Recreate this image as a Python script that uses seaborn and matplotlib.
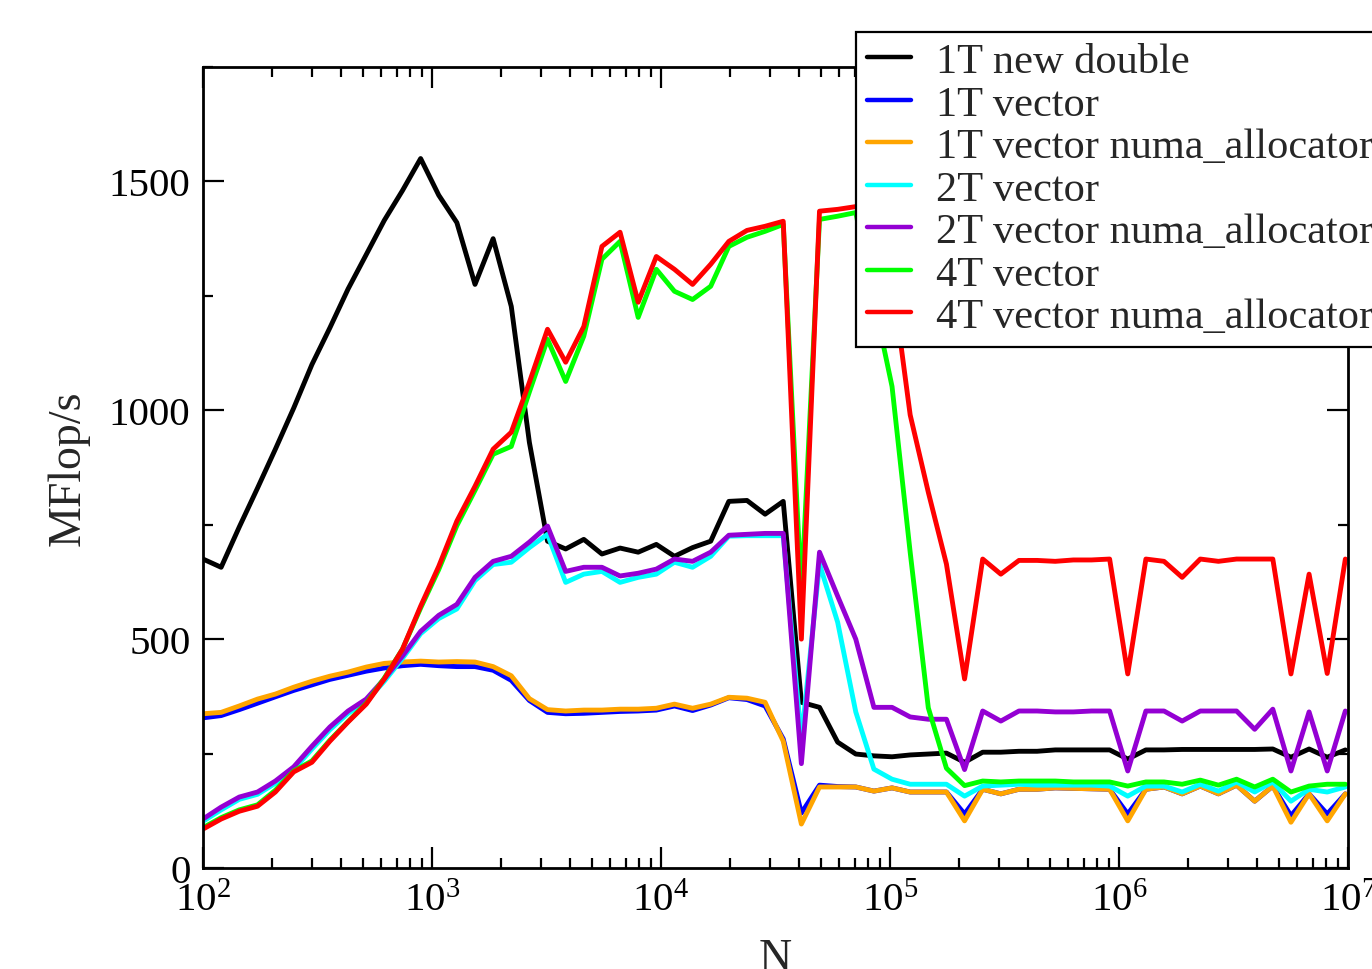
import numpy as np
import pandas as pd
import matplotlib
matplotlib.use("Agg")
import matplotlib.pyplot as plt
import seaborn as sns
from matplotlib.ticker import LogLocator, MultipleLocator, NullFormatter

# ---------------- data ----------------
N = [100, 120, 144, 173, 207, 249, 299, 358, 430, 516,
     619, 743, 892, 1070, 1284, 1541, 1849, 2219, 2662, 3195,
     3834, 4601, 5521, 6625, 7950, 9540, 11448, 13737, 16484, 19781,
     23738, 28485, 34182, 41018, 49222, 59067, 70880, 85056, 102067, 122480,
     146977, 176372, 211646, 253975, 304770, 365724, 438869, 526643, 631971, 758366,
     910044, 1092053, 1310463, 1572556, 1887067, 2264481, 2717377, 3260852, 3913023, 4695627,
     5634753, 6761703, 8114044, 9736853]

one_new_double = [675, 657, 745, 830, 915, 1005, 1100, 1180, 1265, 1340,
                  1415, 1480, 1550, 1470, 1410, 1275, 1375, 1227, 930, 714,
                  697, 718, 686, 699, 690, 707, 681, 700, 714, 801,
                  803, 773, 801, 362, 351, 275, 249, 245, 243, 247,
                  249, 251, 231, 253, 253, 255, 255, 258, 258, 258,
                  258, 238, 258, 258, 259, 259, 259, 259, 259, 260,
                  242, 260, 242, 258]

one_vector = [328, 333, 346, 360, 374, 388, 400, 412, 421, 430,
              437, 442, 445, 442, 440, 440, 432, 410, 366, 340,
              337, 338, 340, 342, 343, 345, 354, 344, 356, 372,
              368, 354, 282, 120, 181, 178, 177, 168, 175, 166,
              166, 166, 118, 172, 162, 172, 172, 175, 174, 173,
              172, 118, 172, 177, 162, 179, 162, 181, 146, 179,
              114, 162, 118, 162]

one_vector_numa = [337, 340, 354, 369, 380, 395, 408, 419, 428, 439,
                   447, 450, 452, 450, 451, 450, 440, 420, 370, 346,
                   343, 345, 345, 347, 347, 349, 358, 349, 358, 373,
                   371, 362, 277, 96, 177, 177, 177, 168, 175, 166,
                   166, 166, 103, 172, 162, 172, 172, 175, 174, 173,
                   172, 103, 172, 177, 162, 179, 162, 181, 146, 179,
                   100, 162, 103, 162]

two_vector = [102, 127, 150, 161, 185, 215, 260, 302, 338, 364,
              408, 458, 512, 545, 566, 628, 663, 668, 700, 729,
              624, 642, 648, 624, 635, 642, 668, 657, 681, 725,
              726, 726, 726, 280, 664, 537, 341, 216, 194, 183,
              183, 183, 157, 179, 181, 183, 181, 181, 181, 181,
              179, 157, 179, 179, 166, 183, 168, 188, 166, 188,
              146, 172, 166, 177]

two_vector_numa = [107, 133, 155, 166, 190, 221, 266, 308, 343, 369,
                   413, 463, 517, 552, 576, 635, 670, 681, 712, 747,
                   648, 657, 657, 638, 644, 653, 675, 670, 690, 727,
                   729, 731, 731, 228, 690, 594, 500, 351, 351, 330,
                   325, 325, 215, 343, 321, 343, 343, 341, 341, 343,
                   343, 212, 343, 343, 321, 343, 343, 343, 303, 347,
                   212, 341, 212, 343]

four_vector = [88, 110, 127, 138, 170, 212, 234, 279, 320, 360,
               415, 478, 568, 652, 748, 825, 904, 921, 1040, 1155,
               1063, 1162, 1330, 1369, 1203, 1308, 1260, 1242, 1271, 1358,
               1378, 1391, 1406, 600, 1417, 1424, 1432, 1240, 1052, 690,
               350, 218, 180, 190, 188, 190, 190, 190, 188, 188,
               188, 179, 188, 188, 183, 192, 181, 194, 177, 194,
               166, 179, 183, 183]

four_vector_numa = [85, 107, 124, 135, 166, 210, 231, 277, 319, 358,
                    413, 478, 572, 659, 758, 834, 915, 952, 1061, 1177,
                    1105, 1183, 1358, 1389, 1236, 1336, 1308, 1275, 1319, 1369,
                    1393, 1402, 1413, 500, 1435, 1439, 1445, 1440, 1290, 990,
                    821, 664, 413, 675, 642, 672, 672, 670, 673, 673,
                    675, 424, 675, 670, 635, 675, 670, 675, 675, 675,
                    424, 642, 425, 675]

series_names = ["1T new double", "1T vector", "1T vector numa_allocator",
                "2T vector", "2T vector numa_allocator",
                "4T vector", "4T vector numa_allocator"]
series_values = [one_new_double, one_vector, one_vector_numa,
                 two_vector, two_vector_numa, four_vector, four_vector_numa]
series_colors = ["#000000", "#0000ff", "#ffa500", "#00ffff",
                 "#9400d3", "#00ff00", "#ff0000"]

x_ticks = [1e2, 1e3, 1e4, 1e5, 1e6, 1e7]
y_ticks = [0, 500, 1000, 1500]

# ---------------- style ----------------
sns.set_theme(style="ticks")
plt.rcParams["font.family"] = ["Liberation Serif", "DejaVu Serif"]
plt.rcParams["mathtext.fontset"] = "custom"
plt.rcParams["mathtext.rm"] = "Liberation Serif"
plt.rcParams["mathtext.it"] = "Liberation Serif:italic"
plt.rcParams["mathtext.bf"] = "Liberation Serif:bold"

rows = []
for name, vals in zip(series_names, series_values):
    for n, v in zip(N, vals):
        rows.append((name, n, v))
df = pd.DataFrame(rows, columns=["series", "N", "MFlop/s"])

fig = plt.figure(figsize=(13.72, 9.70), dpi=100)
ax = fig.add_axes([203 / 1372, 1 - 869 / 970, (1348 - 203) / 1372, (869 - 68) / 970])

sns.lineplot(data=df, x="N", y="MFlop/s", hue="series", hue_order=series_names,
             palette=dict(zip(series_names, series_colors)), linewidth=3.5,
             estimator=None, sort=False, ax=ax, legend=True)

ax.set_xscale("log")
ax.set_xlim(1e2, 1e7)
ax.set_ylim(0, 1750)
ax.set_xticks(x_ticks)
ax.xaxis.set_minor_locator(LogLocator(base=10, subs=np.arange(2, 10)))
ax.xaxis.set_minor_formatter(NullFormatter())
ax.set_yticks(y_ticks)
ax.yaxis.set_minor_locator(MultipleLocator(250))

for sp in ax.spines.values():
    sp.set_linewidth(2.0)
    sp.set_color("black")
    sp.set_visible(True)

ax.tick_params(which="both", direction="in", top=True, right=True,
               colors="black", width=1.6, labelsize=29.5)
ax.tick_params(which="major", length=15)
ax.tick_params(which="minor", length=7.5)
ax.tick_params(axis="x", which="major", pad=10)
ax.tick_params(axis="y", which="major", pad=9)

ax.set_xlabel("N", fontsize=33, labelpad=13)
ax.set_ylabel("MFlop/s", fontsize=33, labelpad=14)

handles, labels = ax.get_legend_handles_labels()
if ax.get_legend() is not None:
    ax.get_legend().remove()
leg = fig.legend(handles, labels, loc="upper left",
                 bbox_to_anchor=(856 / 1372, 1 - 33 / 970),
                 bbox_transform=fig.transFigure, borderaxespad=0,
                 fontsize=30.5, frameon=True, fancybox=False, framealpha=1,
                 edgecolor="black", borderpad=0.25, labelspacing=0.09,
                 handlelength=1.05, handletextpad=0.6)
leg.get_frame().set_linewidth(1.6)
for h in leg.get_lines():
    h.set_linewidth(3.2)

fig.savefig("out.png", dpi=100)
